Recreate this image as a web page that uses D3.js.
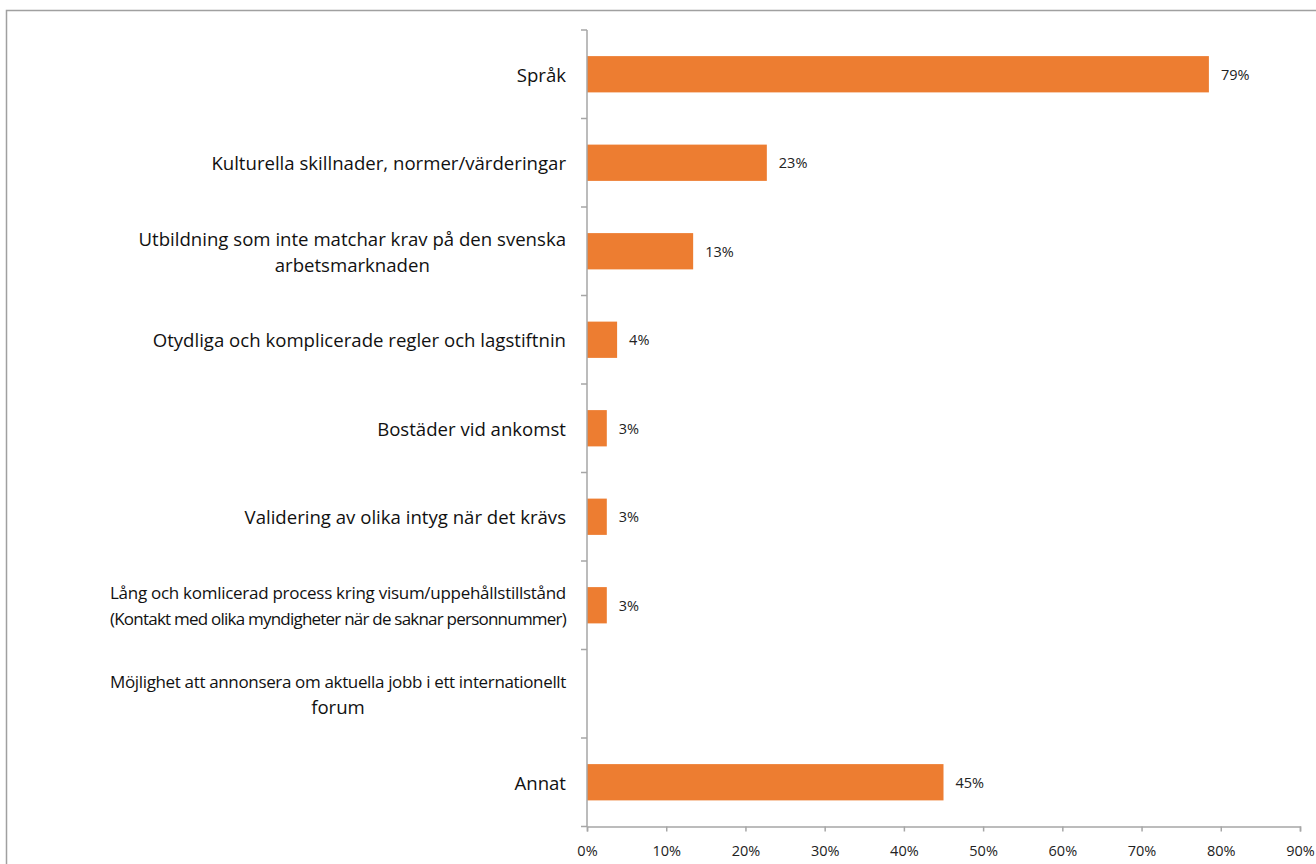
<!DOCTYPE html>
<html>
<head>
<meta charset="utf-8">
<script src="https://cdn.jsdelivr.net/npm/d3@7"></script>
<style>
  body { margin: 0; background: #fff; }
  svg { display: block; }
</style>
</head>
<body>
<svg id="chart"></svg>
<script>
// categories, top to bottom ("\n" = line break as in the original labels)
const categories = [
  'Språk',
  'Kulturella skillnader, normer/värderingar',
  'Utbildning som inte matchar krav på den svenska\narbetsmarknaden',
  'Otydliga och komplicerade regler och lagstiftnin',
  'Bostäder vid ankomst',
  'Validering av olika intyg när det krävs',
  'Lång och komlicerad process kring visum/uppehållstillstånd\n(Kontakt med olika myndigheter när de saknar personnummer)',
  'Möjlighet att annonsera om aktuella jobb i ett internationellt\nforum',
  'Annat'
]
// share in percent (labels show them rounded)
const values = [78.5, 22.7, 13.4, 3.8, 2.5, 2.5, 2.5, 0, 45]
const xTicks = [0, 10, 20, 30, 40, 50, 60, 70, 80, 90]

const width = 1316
const height = 864
const font = '"Open Sans", sans-serif'
const axisColor = '#a6a6a6'
const barColor = '#ed7d31'

const svg = d3.select('#chart')
  .attr('width', width)
  .attr('height', height)

// outer chart border (runs off the right/bottom edge)
svg.append('rect')
  .attr('x', 6.5)
  .attr('y', 10.5)
  .attr('width', 1400)
  .attr('height', 900)
  .attr('fill', 'none')
  .attr('stroke', '#a0a0a0')
  .attr('stroke-width', 1.5)

const x = d3.scaleLinear().domain([0, 90]).range([587, 1300])
const y = d3.scaleBand().domain(categories).range([30, 826.5])
const bw = y.bandwidth()
const barH = bw * 0.41

// bars
svg.append('g').attr('class', 'bars')
  .selectAll('rect')
  .data(values)
  .join('rect')
  .attr('x', x(0))
  .attr('y', (d, i) => y(categories[i]) + (bw - barH) / 2)
  .attr('width', d => x(d) - x(0))
  .attr('height', barH)
  .attr('fill', barColor)

// value labels (none for empty bars)
const vl = svg.append('g').attr('class', 'value-labels')
values.forEach((v, i) => {
  if (v <= 0) return
  vl.append('text')
    .attr('x', x(v) + 12)
    .attr('y', y(categories[i]) + bw / 2)
    .attr('dominant-baseline', 'central')
    .attr('font-family', font)
    .attr('font-size', 14.5)
    .attr('fill', '#222')
    .text(Math.round(v) + '%')
})

// y axis line + ticks at band boundaries
const yAxis = svg.append('g').attr('class', 'y-axis')
yAxis.append('line')
  .attr('x1', x(0)).attr('x2', x(0))
  .attr('y1', 30).attr('y2', 826.5)
  .attr('stroke', axisColor).attr('stroke-width', 1.5)
const bounds = categories.map(c => y(c)).concat([y.range()[1]])
yAxis.selectAll('.tick')
  .data(bounds)
  .join('line')
  .attr('class', 'tick')
  .attr('x1', x(0) - 6).attr('x2', x(0))
  .attr('y1', d => d).attr('y2', d => d)
  .attr('stroke', axisColor).attr('stroke-width', 1.5)

// category labels, wrapped lines centred within a right-aligned block
const labelRight = 566
const maxLineW = 456
const lineH = 25.5
const labelSize = 18.6
const labels = svg.append('g').attr('class', 'cat-labels')
categories.forEach(c => {
  const lines = c.split('\n')
  const g = labels.append('g')
  const texts = lines.map((ln, k) => g.append('text')
    .attr('y', y(c) + bw / 2 + (k - (lines.length - 1) / 2) * lineH)
    .attr('dominant-baseline', 'central')
    .attr('text-anchor', 'middle')
    .attr('font-family', font)
    .attr('font-size', labelSize)
    .attr('fill', '#111')
    .text(ln))
  // over-long lines: a bit smaller and tighter, the original label box is narrower
  texts.forEach(t => {
    const w = t.node().getComputedTextLength()
    if (w <= maxLineW) return
    t.attr('font-size', Math.max(17, labelSize * maxLineW / w))
    const w2 = t.node().getComputedTextLength()
    if (w2 > maxLineW) t.attr('letter-spacing', (maxLineW - w2) / t.text().length)
  })
  const maxW = d3.max(texts, t => t.node().getComputedTextLength())
  texts.forEach(t => t.attr('x', labelRight - maxW / 2))
})

// x axis
const xAxis = svg.append('g')
  .attr('class', 'x-axis')
  .attr('transform', 'translate(0,826.5)')
  .call(d3.axisBottom(x).tickValues(xTicks).tickSize(5).tickPadding(14).tickFormat(d => d + '%'))
xAxis.select('.domain').attr('stroke', axisColor).attr('stroke-width', 1.5)
xAxis.selectAll('.tick line').attr('stroke', axisColor).attr('stroke-width', 1.5)
xAxis.selectAll('.tick text')
  .attr('font-family', font)
  .attr('font-size', 14.5)
  .attr('fill', '#222')
</script>
</body>
</html>
